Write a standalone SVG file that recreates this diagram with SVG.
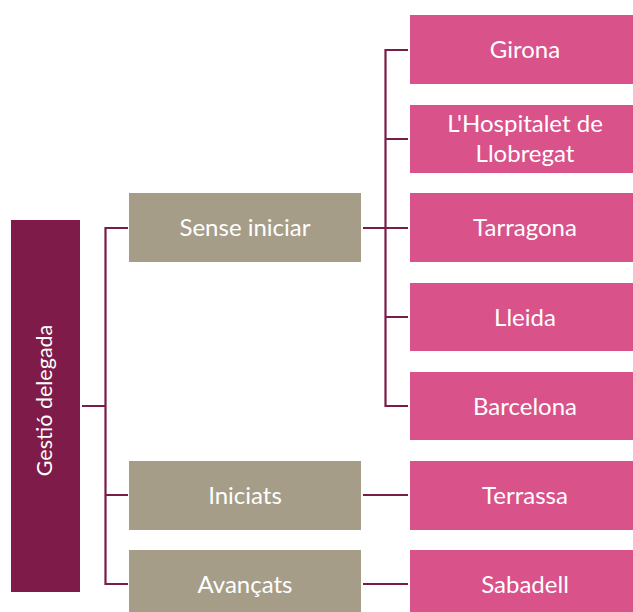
<svg xmlns="http://www.w3.org/2000/svg" width="633" height="612" viewBox="0 0 633 612">
<style>
.root{fill:#7E1B48}
.mid{fill:#A59D88}
.leaf{fill:#D9528A}
.t{font-family:Lato,"Open Sans","Liberation Sans",sans-serif;font-size:24px;fill:#ffffff;text-anchor:middle}
.c{stroke:#7A1C48;stroke-width:2.2;fill:none}
</style>
<g id="connectors">
<path class="c" d="M82,406 H105.5 M128,228 H105.5 V584 H128 M105.5,495 H128"/>
<path class="c" d="M363,228 H408 M408,50 H385.5 V406 H408 M385.5,139 H408 M385.5,317 H408 M363,495 H408 M363,584 H408"/>
</g>
<g id="root"><rect class="root" x="11" y="220" width="69" height="372"/><text class="t" style="font-size:21.5px" transform="translate(52.3,400.5) rotate(-90)">Gestió delegada</text></g>
<g id="sense"><rect class="mid" x="129" y="193" width="232" height="69"/><text class="t" x="245" y="236">Sense iniciar</text></g>
<g id="iniciats"><rect class="mid" x="129" y="461" width="232" height="69"/><text class="t" x="245" y="504">Iniciats</text></g>
<g id="avancats"><rect class="mid" x="129" y="550" width="232" height="69"/><text class="t" x="245" y="593">Avançats</text></g>
<g id="girona"><rect class="leaf" x="410" y="15" width="223" height="69"/><text class="t" x="525" y="58">Girona</text></g>
<g id="hospitalet"><rect class="leaf" x="410" y="105" width="223" height="68"/><text class="t" x="525" y="132">L'Hospitalet de</text><text class="t" x="525" y="162">Llobregat</text></g>
<g id="tarragona"><rect class="leaf" x="410" y="193" width="223" height="69"/><text class="t" x="525" y="236">Tarragona</text></g>
<g id="lleida"><rect class="leaf" x="410" y="283" width="223" height="68"/><text class="t" x="525" y="326">Lleida</text></g>
<g id="barcelona"><rect class="leaf" x="410" y="372" width="223" height="68"/><text class="t" x="525" y="415">Barcelona</text></g>
<g id="terrassa"><rect class="leaf" x="410" y="461" width="223" height="69"/><text class="t" x="525" y="504">Terrassa</text></g>
<g id="sabadell"><rect class="leaf" x="410" y="550" width="223" height="69"/><text class="t" x="525" y="593">Sabadell</text></g>
</svg>
